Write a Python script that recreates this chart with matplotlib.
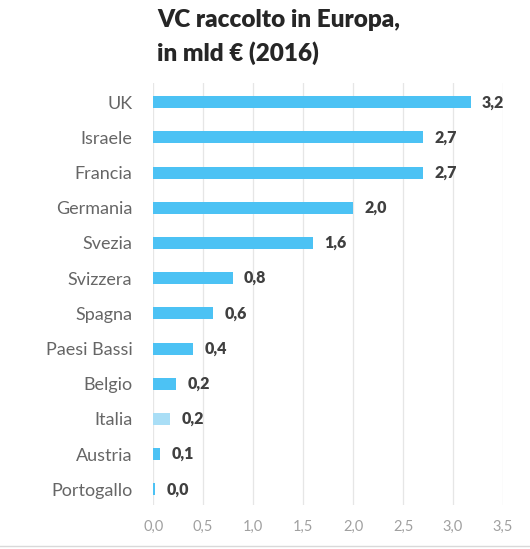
import matplotlib

matplotlib.use("Agg")
import matplotlib.pyplot as plt  # noqa: E402

plt.rcParams["font.family"] = ["Lato", "DejaVu Sans"]

countries = ["UK", "Israele", "Francia", "Germania", "Svezia", "Svizzera",
             "Spagna", "Paesi Bassi", "Belgio", "Italia", "Austria", "Portogallo"]
values = [3.18, 2.7, 2.7, 2.0, 1.6, 0.8, 0.6, 0.4, 0.23, 0.17, 0.07, 0.02]
value_labels = ["3,2", "2,7", "2,7", "2,0", "1,6", "0,8", "0,6", "0,4", "0,2", "0,2", "0,1", "0,0"]
highlight = "Italia"
xticks = [0.0, 0.5, 1.0, 1.5, 2.0, 2.5, 3.0, 3.5]

BLUE = "#4cc2f4"
LIGHT = "#a9def6"

fig = plt.figure(figsize=(5.30, 5.49), dpi=100)
ax = fig.add_axes([0.289, 0.080, 0.660, 0.769])

colors = [LIGHT if c == highlight else BLUE for c in countries]
pos = list(range(len(countries)))
ax.barh(pos, values, height=0.34, color=colors, zorder=2)

for p, v, lab in zip(pos, values, value_labels):
    ax.text(v + 0.11, p, lab, va="center", ha="left", fontsize=11.5,
            fontweight="heavy", color="#404040")

ax.set_xlim(0, 3.5)
ax.set_ylim(len(countries) - 0.55, -0.55)
ax.set_yticks(pos)
ax.set_yticklabels(countries, fontsize=13, color="#666666")
ax.set_xticks(xticks)
ax.set_xticklabels([f"{t:.1f}".replace(".", ",") for t in xticks],
                   fontsize=10.5, color="#a0a0a0")
ax.tick_params(axis="y", length=0, pad=15)
ax.tick_params(axis="x", length=0, pad=11)
ax.grid(axis="x", color="#e6e6e6", linewidth=0.9, zorder=0)
for s in ax.spines.values():
    s.set_visible(False)

fig.text(157 / 530, 1 - 20 / 549, "VC raccolto in Europa,", fontsize=17.5,
         fontweight="heavy", color="#262626", va="center", ha="left")
fig.text(157 / 530, 1 - 53 / 549, "in mld € (2016)", fontsize=17.5,
         fontweight="heavy", color="#262626", va="center", ha="left")

# thin gray rule along the bottom edge
fig.add_artist(plt.Line2D([0, 1], [1 - 546 / 549] * 2, color="#d9d9d9", linewidth=1))

fig.savefig("out.png", dpi=100)
plt.close(fig)
